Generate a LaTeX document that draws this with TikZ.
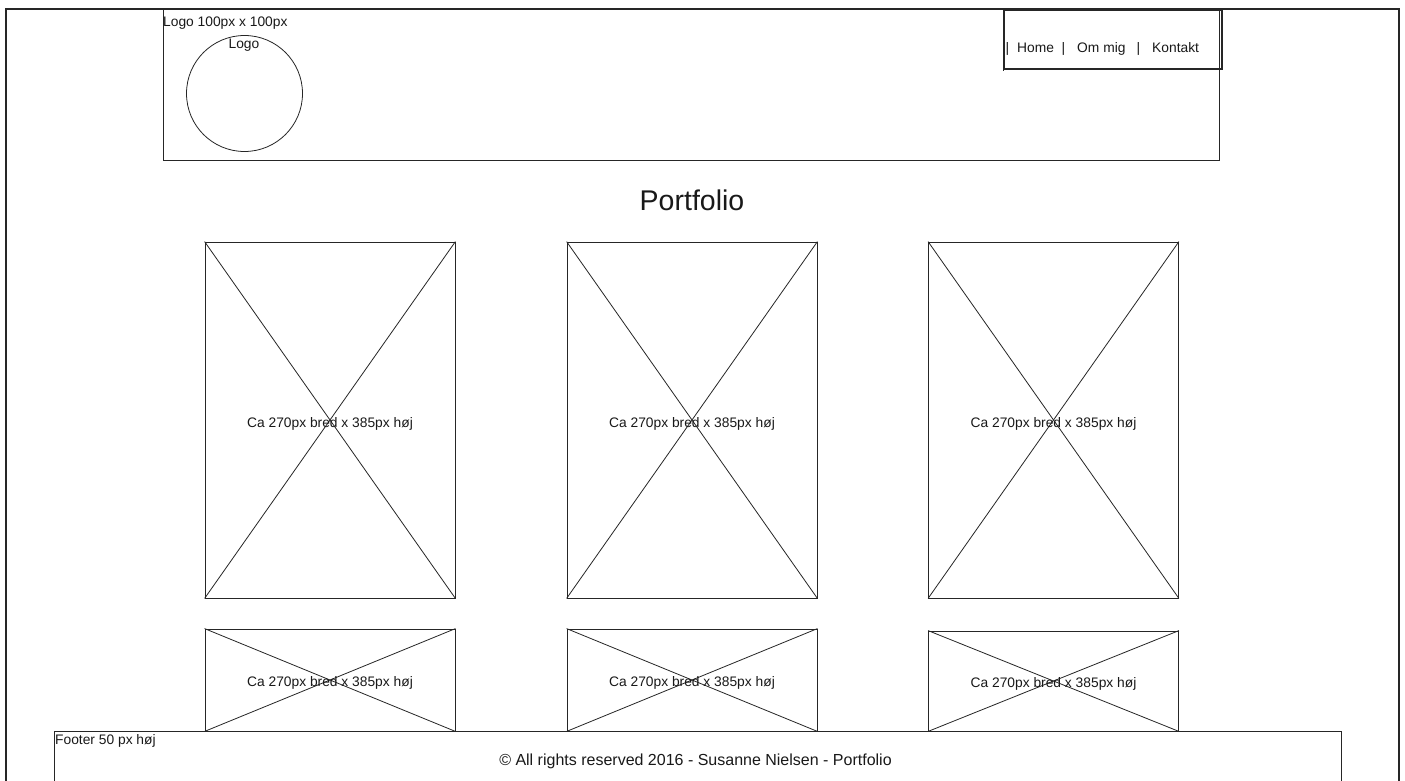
\documentclass[tikz,border=0pt]{standalone}
\usepackage{fontspec}
\setmainfont{Liberation Sans}
\begin{document}
\begin{tikzpicture}[x=1pt,y=-1pt,
  thin line/.style={draw=black!85,line width=0.8pt},
  imgbox/.style={thin line,rectangle,inner sep=0pt,minimum width=250pt,minimum height=356pt},
  smallbox/.style={thin line,rectangle,inner sep=0pt,minimum width=250pt,minimum height=102pt},
  lbl/.style={font=\fontsize{13.8}{16}\selectfont,inner sep=0pt,text=black!90}]
\useasboundingbox (0,0) rectangle (1405,781);
\fill[white] (0,0) rectangle (1405,781);
% outer frame
\begin{scope}
\clip (0,0) rectangle (1405,781);
\draw[line width=2.6pt,black!85] (6,790) -- (6,9) -- (1399,9) -- (1399,790);
\end{scope}
% header
\node[thin line,rectangle,inner sep=0pt,anchor=north west,minimum width=1056pt,minimum height=151pt] (header) at (163,9) {};
\node[lbl,anchor=base west] (logolbl) at (163,27) {Logo 100px x 100px};
\node[thin line,circle,inner sep=0pt,minimum size=116pt] (logo) at (244.5,93.5) {};
\node[lbl,anchor=base] (logotxt) at (244,49) {Logo};
% nav
\node[draw=black!85,line width=2pt,rectangle,inner sep=0pt,anchor=north west,minimum width=218pt,minimum height=59pt] (nav) at (1003,9) {};
\coordinate (tick) at (1003,71);
\draw[thin line] (nav.south west) -- (tick);
\node[lbl,anchor=base west] (bar1) at (1005.5,52.3) {|};
\node[lbl,anchor=base west] (home) at (1017,52.3) {Home};
\node[lbl,anchor=base west] (bar2) at (1061.5,52.3) {|};
\node[lbl,anchor=base west] (ommig) at (1077,52.3) {Om mig};
\node[lbl,anchor=base west] (bar3) at (1136.5,52.3) {|};
\node[lbl,anchor=base west] (kontakt) at (1152,52.3) {Kontakt};
% title
\node[font=\fontsize{28.5}{32}\selectfont,inner sep=0pt,text=black!90,anchor=base] (title) at (692,210) {Portfolio};
% big boxes
\foreach \i/\x in {1/330,2/692,3/1053.5}{
  \node[imgbox] (b\i) at (\x,420) {};
  \draw[thin line] (b\i.north west) -- (b\i.south east);
  \draw[thin line] (b\i.north east) -- (b\i.south west);
  \node[lbl,anchor=base] (bt\i) at ([yshift=-7.3pt]b\i.center) {Ca 270px bred x 385px høj};
}
% small boxes
\foreach \i/\x/\y/\h in {1/330/680/102,2/692/680/102,3/1053.5/681/100}{
  \node[smallbox,minimum height=\h pt] (s\i) at (\x,\y) {};
  \draw[thin line] (s\i.north west) -- (s\i.south east);
  \draw[thin line] (s\i.north east) -- (s\i.south west);
  \node[lbl,anchor=base] (st\i) at ([yshift=-6.5pt]s\i.center) {Ca 270px bred x 385px høj};
}
% footer
\begin{scope}
\clip (0,0) rectangle (1405,781);
\node[thin line,rectangle,inner sep=0pt,anchor=north west,minimum width=1287pt,minimum height=60pt] (footer) at (54,731) {};
\end{scope}
\node[lbl,anchor=base west] (footlbl) at (55,744) {Footer 50 px høj};
\node[font=\fontsize{16}{18}\selectfont,inner sep=0pt,text=black!90,anchor=base] (foottxt) at (695.5,765) {© All rights reserved 2016 - Susanne Nielsen - Portfolio};
\end{tikzpicture}
\end{document}
